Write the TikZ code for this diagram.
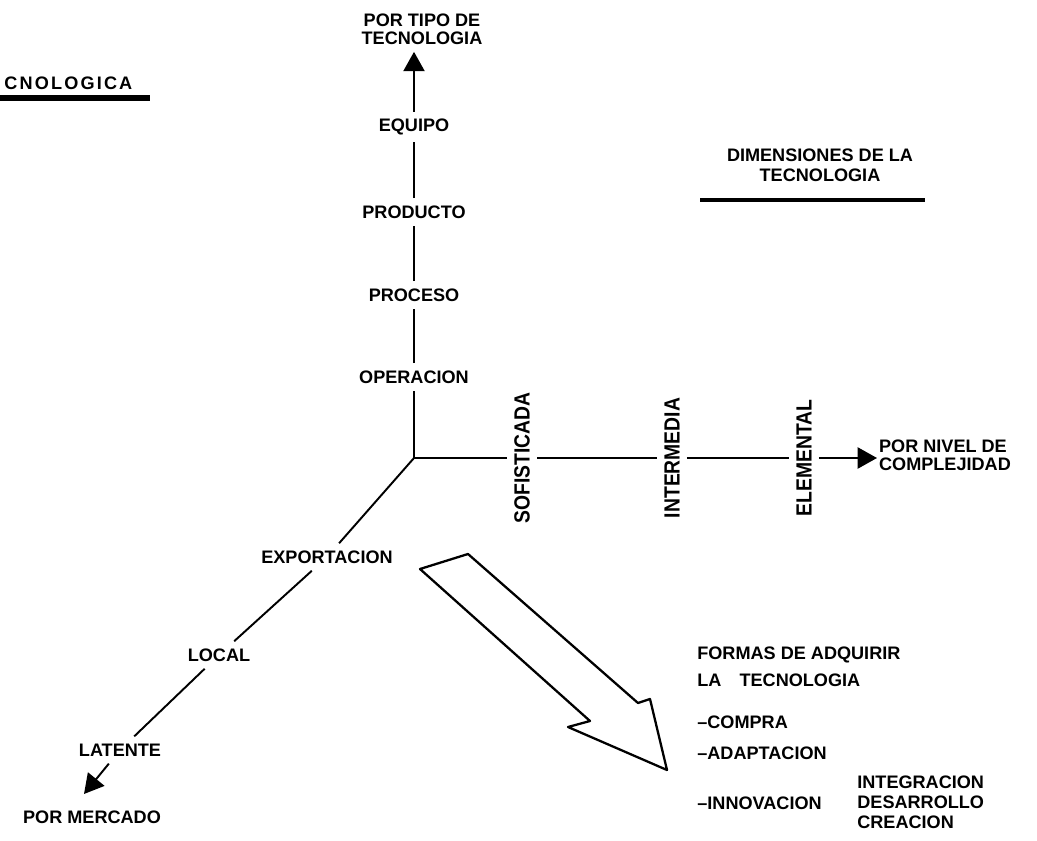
\documentclass[tikz,border=0pt]{standalone}
\usepackage{fontspec}
\setmainfont{Liberation Sans}
\newfontfamily\condfont[FakeStretch=0.88]{Liberation Sans}
\usetikzlibrary{arrows.meta}

\begin{document}
\begin{tikzpicture}[x=0.02cm, y=-0.02cm,
  lbl/.style={font=\bfseries\fontsize{10.3}{11}\selectfont, inner sep=4pt},
  vlbl/.style={lbl, rotate=90, font=\condfont\bfseries\fontsize{12.5}{13}\selectfont},
  txt/.style={lbl, anchor=west, inner xsep=0pt},
  axis/.style={line width=1.1pt},
  axarrow/.style={axis, -{Triangle[width=12pt,length=11pt]}}]
  \useasboundingbox (0,0) rectangle (1037,841);
  % Title, cut at the edge
  \node[txt] (titulo) at (4,83) {\addfontfeature{LetterSpace=12}CNOLOGICA};
  \draw[line width=3.5pt] (0,98) -- (150,98);
  % Axes
  \coordinate (O) at (414,458);
  \node[lbl, align=center, font=\bfseries\fontsize{10.3}{10.3}\selectfont] (tipo) at (422,29) {POR TIPO DE\\TECNOLOGIA};
  \node[lbl] (equipo) at (414,127) {EQUIPO};
  \node[lbl] (producto) at (414,212) {PRODUCTO};
  \node[lbl] (proceso) at (414,295) {PROCESO};
  \node[lbl] (operacion) at (414,377) {OPERACION};
  \draw[axis] (O) -- (operacion) -- (proceso) -- (producto) -- (equipo);
  \draw[axarrow] (equipo) -- (equipo |- tipo.south);
  \node[vlbl] (sofist) at (522,458) {SOFISTICADA};
  \node[vlbl] (interm) at (672,458) {INTERMEDIA};
  \node[vlbl] (elem) at (804,458) {ELEMENTAL};
  \node[lbl, align=left, anchor=west, inner sep=1pt, font=\bfseries\fontsize{10.3}{10.3}\selectfont] (nivel) at (877,455) {POR NIVEL DE\\COMPLEJIDAD};
  \draw[axis] (O) -- (sofist) -- (interm) -- (elem);
  \draw[axarrow] (elem) -- (elem -| nivel.west);
  \node[lbl] (export) at (327,557) {EXPORTACION};
  \node[lbl] (local) at (219,655) {LOCAL};
  \node[lbl] (latente) at (120,750) {LATENTE};
  \node[lbl] (mercado) at (92,817) {POR MERCADO};
  \coordinate (mtip) at (84,794);
  \draw[axis] (O) -- (export) -- (local) -- (latente);
  \draw[axarrow] (latente) -- (mtip);
  % Dimensiones
  \node[lbl, align=center, font=\bfseries\fontsize{10.3}{11.3}\selectfont] (dimen) at (820,165) {DIMENSIONES DE LA\\TECNOLOGIA};
  \draw[line width=2pt] (700,200) -- (925,200);
  % Hollow arrow
  \draw[line width=1.3pt, line join=round] (420,569) -- (468,554) -- (638,703) -- (650,699)
    -- (667,770) -- (568,727) -- (590,721) -- cycle;
  % Formas de adquirir
  \node[txt] (formas) at (697,655) {FORMAS DE ADQUIRIR};
  \node[txt] (latec) at (697,680) {LA\hspace{1em}TECNOLOGIA};
  \node[txt] (compra) at (697,722) {--COMPRA};
  \node[txt] (adapt) at (697,753) {--ADAPTACION};
  \node[txt] (innov) at (697,803) {--INNOVACION};
  \node[txt, align=left, font=\bfseries\fontsize{10.3}{11.3}\selectfont] (grados) at (857,802) {INTEGRACION\\DESARROLLO\\CREACION};
\end{tikzpicture}
\end{document}
